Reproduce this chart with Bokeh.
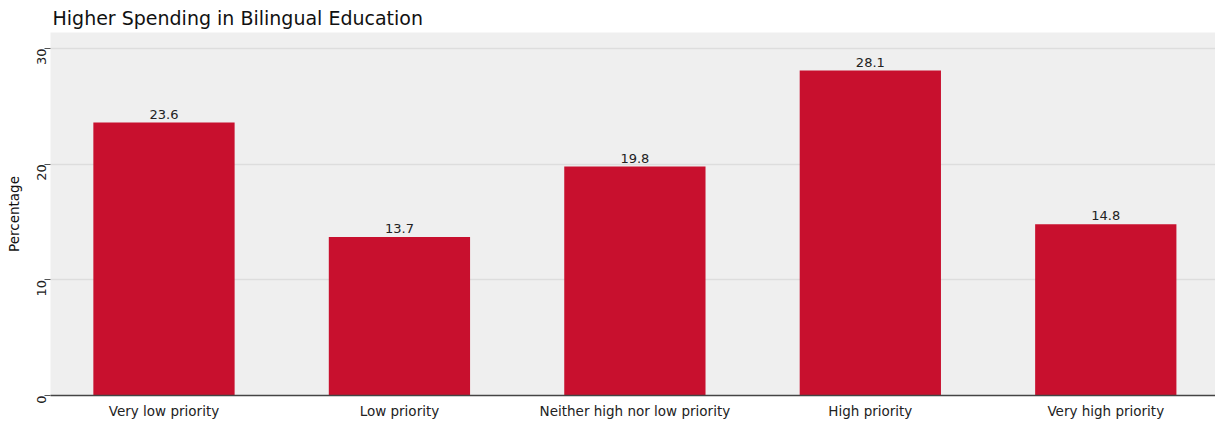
import math
from bokeh.plotting import figure
from bokeh.models import ColumnDataSource, LabelSet, Range1d, FixedTicker
from bokeh.core.properties import value
from bokeh.embed import file_html
from bokeh.resources import INLINE

categories = ["Very low priority", "Low priority", "Neither high nor low priority",
              "High priority", "Very high priority"]
values = [23.6, 13.7, 19.8, 28.1, 14.8]
labels = ["23.6", "13.7", "19.8", "28.1", "14.8"]
y_ticks = [0, 10, 20, 30]

xpos = list(range(len(categories)))
src = ColumnDataSource(dict(x=xpos, val=values, lab=labels))

FONT = "DejaVu Sans"
p = figure(x_range=Range1d(-0.482, 4.466), y_range=Range1d(0, 31.39),
           frame_width=1165, frame_height=363,
           output_backend="svg", toolbar_location=None,
           title="Higher Spending in Bilingual Education",
           min_border_right=0, min_border_left=50, min_border_top=0, min_border_bottom=0)

p.vbar(x="x", top="val", width=0.6, source=src, fill_color="#c8102e", line_color=None)
p.add_layout(LabelSet(x="x", y="val", text="lab", source=src, text_align="center",
                      text_baseline="bottom", y_offset=4, text_font=value(FONT),
                      text_font_size="13px", text_color="#222222"))

p.title.text_font = FONT
p.title.text_font_size = "19px"
p.title.text_font_style = "normal"
p.title.text_color = "#111111"
p.title.offset = 2
p.title.standoff = 8

p.background_fill_color = "#efefef"
p.border_fill_color = "white"
p.outline_line_color = None

p.xgrid.grid_line_color = None
p.ygrid.grid_line_color = "#dddddd"
p.ygrid.grid_line_width = 1.5
p.yaxis.ticker = FixedTicker(ticks=y_ticks)
p.yaxis.axis_label = "Percentage"
p.yaxis.axis_label_text_font = FONT
p.yaxis.axis_label_text_font_size = "13.5px"
p.yaxis.axis_label_text_font_style = "normal"
p.yaxis.axis_label_text_color = "#111111"
p.yaxis.axis_label_standoff = 8
p.yaxis.major_label_orientation = math.pi / 2
p.yaxis.major_label_text_font = FONT
p.yaxis.major_label_text_font_size = "13px"
p.yaxis.major_label_text_color = "#222222"
p.yaxis.major_label_standoff = 3
p.yaxis.axis_line_color = None
p.yaxis.major_tick_line_color = "#555555"
p.yaxis.major_tick_out = 6
p.yaxis.major_tick_in = 0
p.yaxis.minor_tick_line_color = None

p.xaxis.ticker = FixedTicker(ticks=xpos)
p.xaxis.major_label_overrides = {i: c for i, c in enumerate(categories)}
p.xaxis.axis_line_color = "#444444"
p.xaxis.axis_line_width = 1.5
p.xaxis.major_tick_line_color = None
p.xaxis.major_tick_out = 0
p.xaxis.major_tick_in = 0
p.xaxis.minor_tick_line_color = None
p.xaxis.major_label_text_font = FONT
p.xaxis.major_label_text_font_size = "13.5px"
p.xaxis.major_label_text_color = "#222222"
p.xaxis.major_label_standoff = 7

open("out.html", "w").write(file_html(p, INLINE))
